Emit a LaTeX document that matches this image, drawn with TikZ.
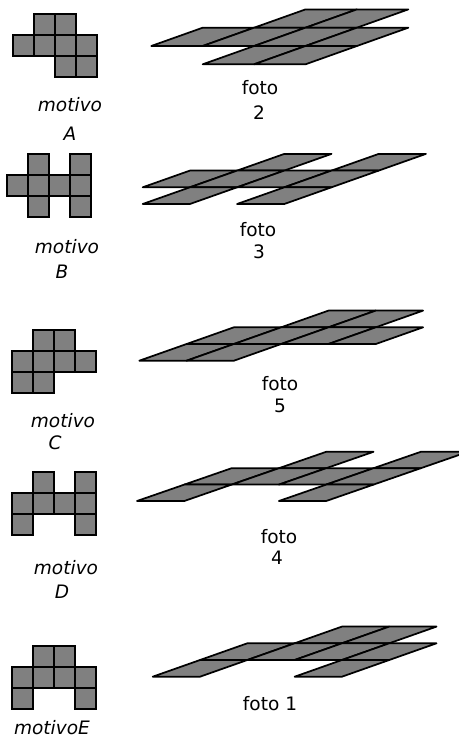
\documentclass[tikz,border=0pt]{standalone}
\usepackage{fontspec}
\setmainfont{DejaVu Sans}
\begin{document}
\begin{tikzpicture}
  [x=0.75pt,y=-0.75pt,every node/.style={inner sep=0pt,font=\fontsize{13.9}{16}\selectfont}]
  \tikzstyle{sq} = [draw=black,fill=black!50,line width=1.5pt]
  \tikzstyle{par} = [draw=black,fill=black!50,line width=1.3pt,line join=round]
  \tikzstyle{mtext} = [font=\fontsize{13.9}{16}\selectfont\itshape]
  \useasboundingbox (0,0) rectangle (459,742);
  \clip (0,0) rectangle (459,742);
  % motivo A / foto 2
  \foreach \c/\r in {1/0,2/0,0/1,1/1,2/1,3/1,2/2,3/2} {
   \draw[sq] ({13+21*\c},{14+21*\r}) rectangle +(21,21);
   \draw[par] ({99.9+51.4*(\c+2-\r)},{64.3-18.3*(2-\r)}) -- ++(51.4,0) -- ++(51.4,-18.3) -- ++(-51.4,0) -- cycle;
  }
  \node[mtext] (mA)  at (70,105) {motivo};
  \node[mtext] (lA)  at (70,134) {A};
  \node (fA)  at (260,88)  {foto};
  \node (nA)  at (259,113) {2};
  % motivo B / foto 3
  \foreach \c/\r in {1/0,3/0,0/1,1/1,2/1,3/1,1/2,3/2} {
   \draw[sq] ({7.3+21*\c},{154+21*\r}) rectangle +(21,21);
   \draw[par] ({95.5+47.2*(\c+2-\r)},{204-16.7*(2-\r)}) -- ++(47.2,0) -- ++(47.2,-16.7) -- ++(-47.2,0) -- cycle;
  }
  \node[mtext] (mB)  at (67,247) {motivo};
  \node[mtext] (lB)  at (62,272) {B};
  \node (fB)  at (258,230) {foto};
  \node (nB)  at (259,252) {3};
  % motivo C / foto 5
  \foreach \c/\r in {1/0,2/0,0/1,1/1,2/1,3/1,0/2,1/2} {
   \draw[sq] ({11.7+21*\c},{330+21*\r}) rectangle +(21,21);
   \draw[par] ({139.3+47.3*(\c+2-\r)},{360.7-16.7*(2-\r)}) -- ++(47.3,0) -- ++(47.3,-16.7) -- ++(-47.3,0) -- cycle;
  }
  \node[mtext] (mC)  at (63,421) {motivo};
  \node[mtext] (lC)  at (55,443) {C};
  \node (fC)  at (280,384) {foto};
  \node (nC)  at (280,406) {5};
  % motivo D / foto 4
  \foreach \c/\r in {1/0,3/0,0/1,1/1,2/1,3/1,0/2,3/2} {
   \draw[sq] ({12+21*\c},{471.7+21*\r}) rectangle +(21,21);
   \draw[par] ({137+47.3*(\c+2-\r)},{501-16.4*(2-\r)}) -- ++(47.3,0) -- ++(47.3,-16.4) -- ++(-47.3,0) -- cycle;
  }
  \node[mtext] (mD)  at (66,568) {motivo};
  \node[mtext] (lD)  at (62,592) {D};
  \node (fD)  at (279,537) {foto};
  \node (nD)  at (277,558) {4};
  % motivo E / foto 1
  \foreach \c/\r in {1/0,2/0,0/1,1/1,2/1,3/1,0/2,3/2} {
   \draw[sq] ({12+21*\c},{645.7+21*\r}) rectangle +(21,21);
   \draw[par] ({152.7+47.3*(\c+2-\r)},{676.7-16.7*(2-\r)}) -- ++(47.3,0) -- ++(47.3,-16.7) -- ++(-47.3,0) -- cycle;
  }
  \node[mtext] (mE)  at (52,728) {motivoE};
  \node (fE)  at (270,704) {foto 1};
\end{tikzpicture}
\end{document}
